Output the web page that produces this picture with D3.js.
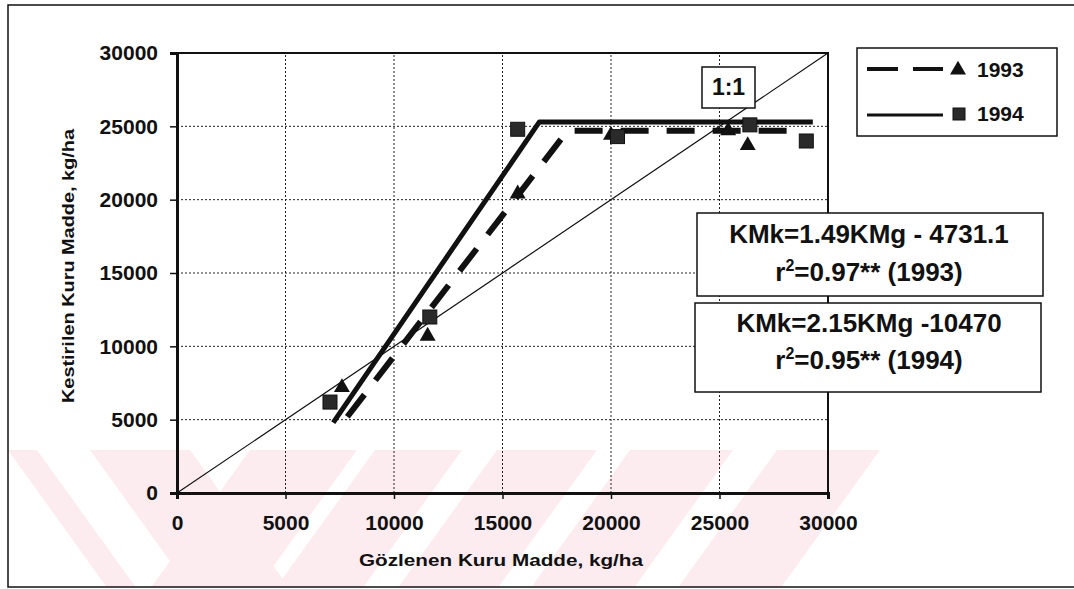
<!DOCTYPE html>
<html>
<head>
<meta charset="utf-8">
<script src="https://cdn.jsdelivr.net/npm/d3@7.9.0/dist/d3.min.js"></script>
<style>
  body { margin: 0; background: #fff; }
  svg { display: block; font-family: "Liberation Sans", Arial, sans-serif; }
</style>
</head>
<body>
<svg id="chart" width="1074" height="589"></svg>
<script>
const ticks = [0, 5000, 10000, 15000, 20000, 25000, 30000];

// 1993 observed / estimated (triangles)
const obs1993 = [7600, 11550, 15700, 20000, 25400, 26300];
const est1993 = [7200, 10700, 20400, 24400, 24700, 23700];
// 1994 observed / estimated (squares)
const obs1994 = [7050, 11650, 15700, 20300, 26400, 29000];
const est1994 = [6200, 12000, 24800, 24300, 25100, 24000];

// fitted broken-stick lines
const fit1993X = [7850, 18000, 28700];
const fit1993Y = [5200, 24700, 24700];
const fit1994X = [7200, 16700, 29300];
const fit1994Y = [4800, 25300, 25300];

const oneToOne = [0, 30000];

const eq1993 = ["KMk=1.49KMg - 4731.1", "=0.97** (1993)"];
const eq1994 = ["KMk=2.15KMg -10470", "=0.95** (1994)"];

const svg = d3.select("#chart");

// faint watermark stripes behind the chart
const stripes = [
  {x0: 8, x1: 37, dx: 100},
  {x0: 90, x1: 190, dx: 100},
  {x0: 250, x1: 357, dx: -100},
  {x0: 375, x1: 462, dx: -100},
  {x0: 497, x1: 597, dx: -100},
  {x0: 630, x1: 733, dx: -100},
  {x0: 777, x1: 880, dx: -100}
];
svg.append("clipPath").attr("id", "frameClip")
  .append("rect").attr("x", 8).attr("y", 5).attr("width", 1066).attr("height", 582);
svg.append("g").attr("clip-path", "url(#frameClip)")
  .selectAll("polygon").data(stripes).join("polygon")
  .attr("points", d => `${d.x0},450 ${d.x1},450 ${d.x1 + d.dx},589 ${d.x0 + d.dx},589`)
  .attr("fill", "#fdecef");

// outer frame
svg.append("rect")
  .attr("x", 8).attr("y", 5).attr("width", 1080).attr("height", 582)
  .attr("fill", "none").attr("stroke", "#111").attr("stroke-width", 1.5);

const x = d3.scaleLinear().domain([0, 30000]).range([177, 828]);
const y = d3.scaleLinear().domain([0, 30000]).range([493, 53]);

// grid
const grid = svg.append("g").attr("stroke", "#222").attr("stroke-width", 1).attr("stroke-dasharray", "2,2");
grid.selectAll(".vg").data(ticks.slice(1, -1)).join("line")
  .attr("x1", d => x(d)).attr("x2", d => x(d)).attr("y1", y(0)).attr("y2", y(30000));
grid.selectAll(".hg").data(ticks.slice(1, -1)).join("line")
  .attr("x1", x(0)).attr("x2", x(30000)).attr("y1", d => y(d)).attr("y2", d => y(d));

// plot border top/right
svg.append("path")
  .attr("d", `M${x(0)},${y(30000)}H${x(30000)}V${y(0)}`)
  .attr("fill", "none").attr("stroke", "#111").attr("stroke-width", 2);

// axes
const xAxis = svg.append("g").attr("transform", `translate(0,${y(0)})`)
  .call(d3.axisBottom(x).tickValues(ticks).tickFormat(d3.format("d")).tickSize(6).tickPadding(16));
const yAxis = svg.append("g").attr("transform", `translate(${x(0)},0)`)
  .call(d3.axisLeft(y).tickValues(ticks).tickFormat(d3.format("d")).tickSize(7).tickPadding(12));
[xAxis, yAxis].forEach(a => {
  a.select(".domain").attr("stroke", "#111").attr("stroke-width", 3);
  a.selectAll(".tick line").attr("stroke", "#111").attr("stroke-width", 1.5);
  a.selectAll("text").attr("font-size", 21).attr("font-weight", "bold").attr("fill", "#111")
    .attr("font-family", "'Liberation Sans', Arial, sans-serif");
});
xAxis.selectAll("text").attr("dy", "0.71em");

// axis titles
svg.append("text")
  .attr("x", 501).attr("y", 566).attr("text-anchor", "middle")
  .attr("font-size", 17).attr("font-weight", "bold").attr("fill", "#111")
  .attr("textLength", 284).attr("lengthAdjust", "spacingAndGlyphs")
  .text("Gözlenen Kuru Madde, kg/ha");
svg.append("text")
  .attr("transform", "translate(74,266) rotate(-90)").attr("text-anchor", "middle")
  .attr("font-size", 17).attr("font-weight", "bold").attr("fill", "#111")
  .attr("textLength", 274).attr("lengthAdjust", "spacingAndGlyphs")
  .text("Kestirilen Kuru Madde, kg/ha");

// 1:1 line
svg.append("line")
  .attr("x1", x(oneToOne[0])).attr("y1", y(oneToOne[0]))
  .attr("x2", x(oneToOne[1])).attr("y2", y(oneToOne[1]))
  .attr("stroke", "#111").attr("stroke-width", 1.2);

const line = d3.line().x(d => x(d[0])).y(d => y(d[1]));

// fitted lines
svg.append("path")
  .datum(d3.zip(fit1993X, fit1993Y))
  .attr("d", line).attr("fill", "none").attr("stroke", "#111")
  .attr("stroke-width", 6).attr("stroke-dasharray", "28,18");
svg.append("path")
  .datum(d3.zip(fit1994X, fit1994Y))
  .attr("d", line).attr("fill", "none").attr("stroke", "#111")
  .attr("stroke-width", 5).attr("stroke-linejoin", "round");

// markers
const tri = d3.symbol().type(d3.symbolTriangle).size(110);
svg.append("g").selectAll("path").data(d3.zip(obs1993, est1993)).join("path")
  .attr("transform", d => `translate(${x(d[0])},${y(d[1])})`)
  .attr("d", tri).attr("fill", "#111");
svg.append("g").selectAll("rect").data(d3.zip(obs1994, est1994)).join("rect")
  .attr("x", d => x(d[0]) - 7).attr("y", d => y(d[1]) - 7)
  .attr("width", 14).attr("height", 14)
  .attr("fill", "#2a2a2a").attr("stroke", "#111");

// 1:1 label
svg.append("rect").attr("x", 702).attr("y", 67).attr("width", 53).attr("height", 41)
  .attr("fill", "#fff").attr("stroke", "#111").attr("stroke-width", 1.5);
svg.append("text").attr("x", 728.5).attr("y", 95).attr("text-anchor", "middle")
  .attr("font-size", 23).attr("font-weight", "bold").attr("fill", "#111").text("1:1");

// legend
const legend = svg.append("g");
legend.append("rect").attr("x", 857).attr("y", 48).attr("width", 200).attr("height", 88)
  .attr("fill", "#fff").attr("stroke", "#111").attr("stroke-width", 1.5);
legend.append("line").attr("x1", 867).attr("x2", 943).attr("y1", 69).attr("y2", 69)
  .attr("stroke", "#111").attr("stroke-width", 4).attr("stroke-dasharray", "31,15");
legend.append("path").attr("transform", "translate(958,70)").attr("d", tri).attr("fill", "#111");
legend.append("text").attr("x", 977).attr("y", 77)
  .attr("font-size", 21).attr("font-weight", "bold").attr("fill", "#111").text("1993");
legend.append("line").attr("x1", 867).attr("x2", 943).attr("y1", 115).attr("y2", 115)
  .attr("stroke", "#111").attr("stroke-width", 3);
legend.append("rect").attr("x", 953).attr("y", 108).attr("width", 12).attr("height", 12)
  .attr("fill", "#2a2a2a").attr("stroke", "#111");
legend.append("text").attr("x", 977).attr("y", 121)
  .attr("font-size", 21).attr("font-weight", "bold").attr("fill", "#111").text("1994");

// equation boxes
function eqBox(bx, by, bw, bh, lines, y1, y2) {
  svg.append("rect").attr("x", bx).attr("y", by).attr("width", bw).attr("height", bh)
    .attr("fill", "#fff").attr("stroke", "#111").attr("stroke-width", 1.5);
  svg.append("text").attr("x", 869).attr("y", y1).attr("text-anchor", "middle")
    .attr("font-size", 26).attr("font-weight", "bold").attr("fill", "#111").text(lines[0]);
  const t = svg.append("text").attr("x", 869).attr("y", y2).attr("text-anchor", "middle")
    .attr("font-size", 26).attr("font-weight", "bold").attr("fill", "#111");
  t.append("tspan").text("r");
  t.append("tspan").attr("dy", -10).attr("font-size", 16).text("2");
  t.append("tspan").attr("dy", 10).text(lines[1]);
}
eqBox(697, 213, 346, 83, eq1993, 243, 281);
eqBox(695, 303, 346, 89, eq1994, 332, 369);
</script>
</body>
</html>
